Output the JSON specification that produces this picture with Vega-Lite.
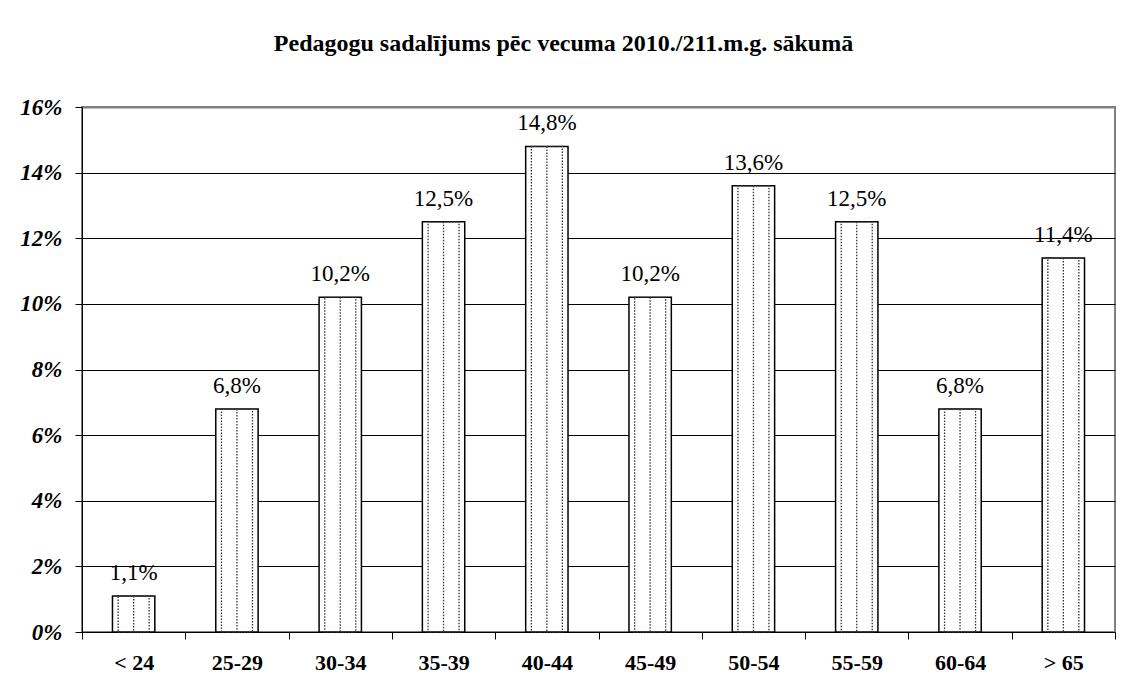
{
  "$schema": "https://vega.github.io/schema/vega-lite/v6.json",
  "autosize": "none",
  "width": 1033,
  "height": 525,
  "padding": {"left": 82, "top": 107, "right": 13, "bottom": 60},
  "background": "white",
  "title": {
    "text": "Pedagogu sadalījums pēc vecuma 2010./211.m.g. sākumā",
    "font": "Liberation Serif",
    "fontSize": 24,
    "fontWeight": "bold",
    "color": "black",
    "anchor": "middle",
    "dx": -35,
    "offset": 40
  },
  "data": {
    "values": [
      {"age": "< 24", "share": 0.011},
      {"age": "25-29", "share": 0.068},
      {"age": "30-34", "share": 0.102},
      {"age": "35-39", "share": 0.125},
      {"age": "40-44", "share": 0.148},
      {"age": "45-49", "share": 0.102},
      {"age": "50-54", "share": 0.136},
      {"age": "55-59", "share": 0.125},
      {"age": "60-64", "share": 0.068},
      {"age": "> 65", "share": 0.114}
    ]
  },
  "encoding": {
    "x": {
      "field": "age",
      "type": "nominal",
      "sort": null,
      "scale": {"paddingInner": 0, "paddingOuter": 0},
      "axis": {
        "title": null,
        "labelAngle": 0,
        "labelFont": "Liberation Serif",
        "labelFontSize": 22,
        "labelFontWeight": "bold",
        "labelColor": "black",
        "labelPadding": 13,
        "tickBand": "extent",
        "tickSize": 7,
        "tickColor": "black",
        "domainColor": "black",
        "domainWidth": 1
      }
    },
    "y": {
      "field": "share",
      "type": "quantitative",
      "scale": {"domain": [0, 0.16], "nice": false},
      "axis": {
        "title": null,
        "values": [0, 0.02, 0.04, 0.06, 0.08, 0.1, 0.12, 0.14, 0.16],
        "format": ".0%",
        "labelFont": "Liberation Serif",
        "labelFontSize": 23,
        "labelFontWeight": "bold",
        "labelFontStyle": "italic",
        "labelColor": "black",
        "labelPadding": 13,
        "tickSize": 7,
        "tickColor": "black",
        "domainColor": "black",
        "domainWidth": 1,
        "grid": true,
        "gridColor": {"condition": {"test": "datum.value >= 0.16", "value": "#808080"}, "value": "black"},
        "gridWidth": {"condition": {"test": "datum.value >= 0.16", "value": 2}, "value": 1}
      }
    }
  },
  "layer": [
    {
      "mark": {"type": "bar", "width": {"band": 0.41}, "fill": "white", "stroke": "black", "strokeWidth": 1.5}
    },
    {
      "mark": {"type": "bar", "width": {"band": 0.3}, "fill": null, "fillOpacity": 0, "stroke": "#333333", "strokeWidth": 1.3, "strokeDash": [1.5, 1.5]}
    },
    {
      "mark": {"type": "rule", "stroke": "#333333", "strokeWidth": 1.3, "strokeDash": [1.5, 1.5]},
      "encoding": {"y2": {"datum": 0}}
    },
    {
      "mark": {"type": "text", "font": "Liberation Serif", "fontSize": 23, "color": "black", "baseline": "alphabetic", "dy": -16},
      "encoding": {"text": {"field": "share", "type": "quantitative", "format": ".1%"}}
    }
  ],
  "config": {
    "locale": {"number": {"decimal": ",", "thousands": "\u00a0", "grouping": [3], "currency": ["", " €"]}},
    "view": {"stroke": "#808080", "strokeWidth": 2}
  }
}
